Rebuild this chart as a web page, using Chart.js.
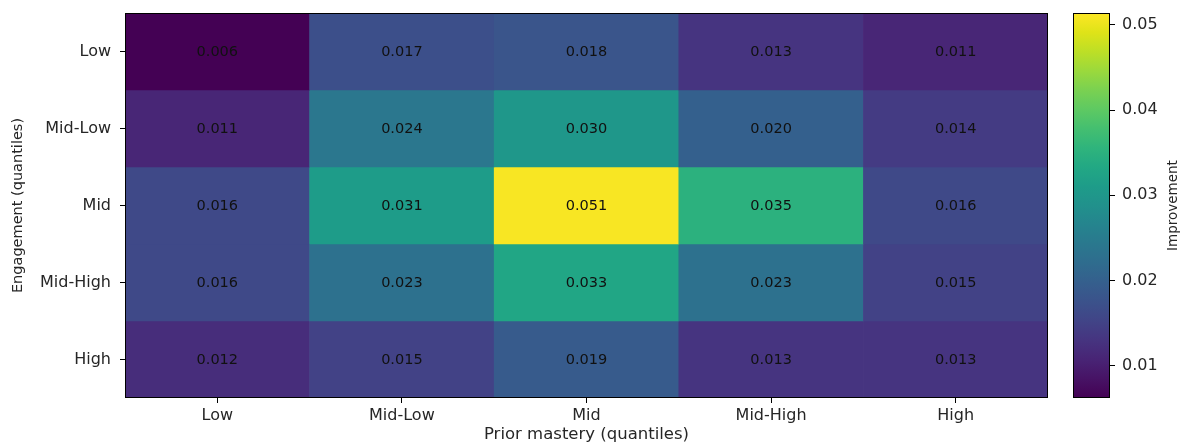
<!DOCTYPE html>
<html lang="en">
<head>
  <meta charset="UTF-8">
  <title>Improvement by engagement and prior mastery</title>
  <style>
    body {
      margin: 0;
      background: #fff;
    }
    #main {
      position: absolute;
      left: 0;
      top: 0;
      width: 1060px;
      height: 443px;
    }
    #cbar {
      position: absolute;
      left: 1060px;
      top: 0;
      width: 123px;
      height: 443px;
    }
  </style>
</head>
<body>
  <div id="main"><canvas id="heatmap"></canvas></div>
  <div id="cbar"><canvas id="colorbar"></canvas></div>

  <script src="https://cdn.jsdelivr.net/npm/chart.js"></script>
  <script>
    // columns = prior mastery, rows = engagement (top to bottom)
    const masteryLabels = ['Low', 'Mid-Low', 'Mid', 'Mid-High', 'High'];
    const engagementLabels = ['Low', 'Mid-Low', 'Mid', 'Mid-High', 'High'];

    const engLow = [0.006, 0.017, 0.018, 0.013, 0.011];
    const engMidLow = [0.011, 0.024, 0.030, 0.020, 0.014];
    const engMid = [0.016, 0.031, 0.051, 0.035, 0.016];
    const engMidHigh = [0.016, 0.023, 0.033, 0.023, 0.015];
    const engHigh = [0.012, 0.015, 0.019, 0.013, 0.013];
    const rows = [engLow, engMidLow, engMid, engMidHigh, engHigh];

    const colorbarTicks = [0.01, 0.02, 0.03, 0.04, 0.05];
    const colorMin = 0.0062;
    const colorMax = 0.0514;

    const FONT = 'DejaVu Sans';
    const TEXT = '#262626';

    // viridis, sampled every 0.05
    const viridis = ['#440154', '#471365', '#482475', '#463480', '#414487', '#3b528b', '#355f8d',
      '#2f6c8e', '#2a788e', '#25848e', '#21918c', '#1e9c89', '#22a884', '#2fb47c', '#44bf70',
      '#5ec962', '#7ad151', '#9bd93c', '#bddf26', '#dfe318', '#fde725'];

    function hexToRgb(h) {
      return [parseInt(h.slice(1, 3), 16), parseInt(h.slice(3, 5), 16), parseInt(h.slice(5, 7), 16)];
    }

    function colorFor(v) {
      let t = (v - colorMin) / (colorMax - colorMin);
      t = Math.max(0, Math.min(1, t));
      const pos = t * (viridis.length - 1);
      const i = Math.min(Math.floor(pos), viridis.length - 2);
      const f = pos - i;
      const a = hexToRgb(viridis[i]);
      const b = hexToRgb(viridis[i + 1]);
      const c = a.map((x, k) => Math.round(x + (b[k] - x) * f));
      return `rgb(${c[0]}, ${c[1]}, ${c[2]})`;
    }

    // drop the automatic half-label padding so chartArea sits where the layout says
    function noScalePadding(scale) {
      scale.paddingTop = 0;
      scale.paddingBottom = 0;
      scale.paddingLeft = 0;
      scale.paddingRight = 0;
    }

    const framePlugin = {
      id: 'frame',
      afterDraw(chart) {
        const { ctx, chartArea: a } = chart;
        ctx.save();
        ctx.strokeStyle = '#000';
        ctx.lineWidth = 1;
        ctx.strokeRect(Math.round(a.left) + 0.5, Math.round(a.top) + 0.5,
          Math.round(a.right - a.left) - 1, Math.round(a.bottom - a.top) - 1);
        ctx.restore();
      }
    };

    const cellLabels = {
      id: 'cellLabels',
      afterDatasetsDraw(chart) {
        const { ctx } = chart;
        ctx.save();
        ctx.font = `14.5px '${FONT}'`;
        ctx.fillStyle = '#111';
        ctx.textAlign = 'center';
        ctx.textBaseline = 'middle';
        chart.data.datasets.forEach((ds, di) => {
          const meta = chart.getDatasetMeta(di);
          meta.data.forEach((bar, i) => {
            const y = (bar.y + bar.base) / 2 + 1;
            ctx.fillText(rows[di][i].toFixed(3), bar.x, y);
          });
        });
        ctx.restore();
      }
    };

    const datasets = rows.map((vals, r) => ({
      label: engagementLabels[r],
      data: vals.map(() => [r, r + 1]),
      backgroundColor: vals.map(colorFor),
      borderWidth: 0,
      grouped: false,
      barPercentage: 1,
      categoryPercentage: 1
    }));

    new Chart(document.getElementById('heatmap'), {
      type: 'bar',
      data: { labels: masteryLabels, datasets: datasets },
      options: {
        responsive: true,
        maintainAspectRatio: false,
        animation: false,
        layout: { padding: { top: 13, right: 12, left: 0, bottom: 0 } },
        plugins: {
          legend: { display: false },
          tooltip: { enabled: false }
        },
        scales: {
          x: {
            type: 'category',
            offset: true,
            grid: {
              offset: false,
              drawOnChartArea: false,
              drawTicks: true,
              tickLength: 5,
              tickColor: '#000'
            },
            border: { display: false },
            ticks: {
              color: TEXT,
              font: { family: FONT, size: 16 },
              padding: 3,
              maxRotation: 0,
              autoSkip: false
            },
            title: {
              display: true,
              text: 'Prior mastery (quantiles)',
              color: TEXT,
              font: { family: FONT, size: 16.5, lineHeight: 1.0 },
              padding: { top: 0, bottom: 0 }
            },
            afterFit(scale) {
              noScalePadding(scale);
              scale.height = 45;
            }
          },
          y: {
            type: 'linear',
            min: 0,
            max: 5,
            reverse: true,
            grid: {
              drawOnChartArea: false,
              drawTicks: true,
              tickLength: 5,
              tickColor: '#000'
            },
            border: { display: false },
            afterBuildTicks(scale) {
              scale.ticks = engagementLabels.map((_, i) => ({ value: i + 0.5 }));
            },
            ticks: {
              color: TEXT,
              font: { family: FONT, size: 16 },
              padding: 9,
              autoSkip: false,
              callback: (value, index) => engagementLabels[index]
            },
            title: {
              display: true,
              text: 'Engagement (quantiles)',
              color: TEXT,
              font: { family: FONT, size: 14.5, lineHeight: 1.2 },
              padding: { top: 10, bottom: 0 }
            },
            afterFit(scale) {
              noScalePadding(scale);
              scale.width = 125;
            }
          }
        }
      },
      plugins: [cellLabels, framePlugin]
    });

    // colorbar
    const barLabel = {
      id: 'barLabel',
      afterDraw(chart) {
        const { ctx, chartArea: a } = chart;
        ctx.save();
        ctx.font = `13.5px '${FONT}'`;
        ctx.fillStyle = TEXT;
        ctx.textAlign = 'center';
        ctx.textBaseline = 'middle';
        ctx.translate(113, (a.top + a.bottom) / 2);
        ctx.rotate(-Math.PI / 2);
        ctx.fillText('Improvement', 0, 0);
        ctx.restore();
      }
    };

    new Chart(document.getElementById('colorbar'), {
      type: 'bar',
      data: {
        labels: ['Improvement'],
        datasets: [{
          data: [[colorMin, colorMax]],
          borderWidth: 0,
          barPercentage: 1,
          categoryPercentage: 1,
          backgroundColor(context) {
            const area = context.chart.chartArea;
            if (!area) return viridis[0];
            const g = context.chart.ctx.createLinearGradient(0, area.bottom, 0, area.top);
            viridis.forEach((c, i) => g.addColorStop(i / (viridis.length - 1), c));
            return g;
          }
        }]
      },
      options: {
        responsive: true,
        maintainAspectRatio: false,
        animation: false,
        layout: { padding: { top: 13, bottom: 45, left: 13, right: 0 } },
        plugins: {
          legend: { display: false },
          tooltip: { enabled: false }
        },
        scales: {
          x: { display: false },
          y: {
            type: 'linear',
            position: 'right',
            min: colorMin,
            max: colorMax,
            grid: {
              drawOnChartArea: false,
              drawTicks: true,
              tickLength: 5,
              tickColor: '#000'
            },
            border: { display: false },
            afterBuildTicks(scale) {
              scale.ticks = colorbarTicks.map(v => ({ value: v }));
            },
            ticks: {
              color: TEXT,
              font: { family: FONT, size: 16 },
              padding: 7,
              callback: v => v.toFixed(2)
            },
            afterFit(scale) {
              noScalePadding(scale);
              scale.width = 73;
            }
          }
        }
      },
      plugins: [framePlugin, barLabel]
    });
  </script>
</body>
</html>
